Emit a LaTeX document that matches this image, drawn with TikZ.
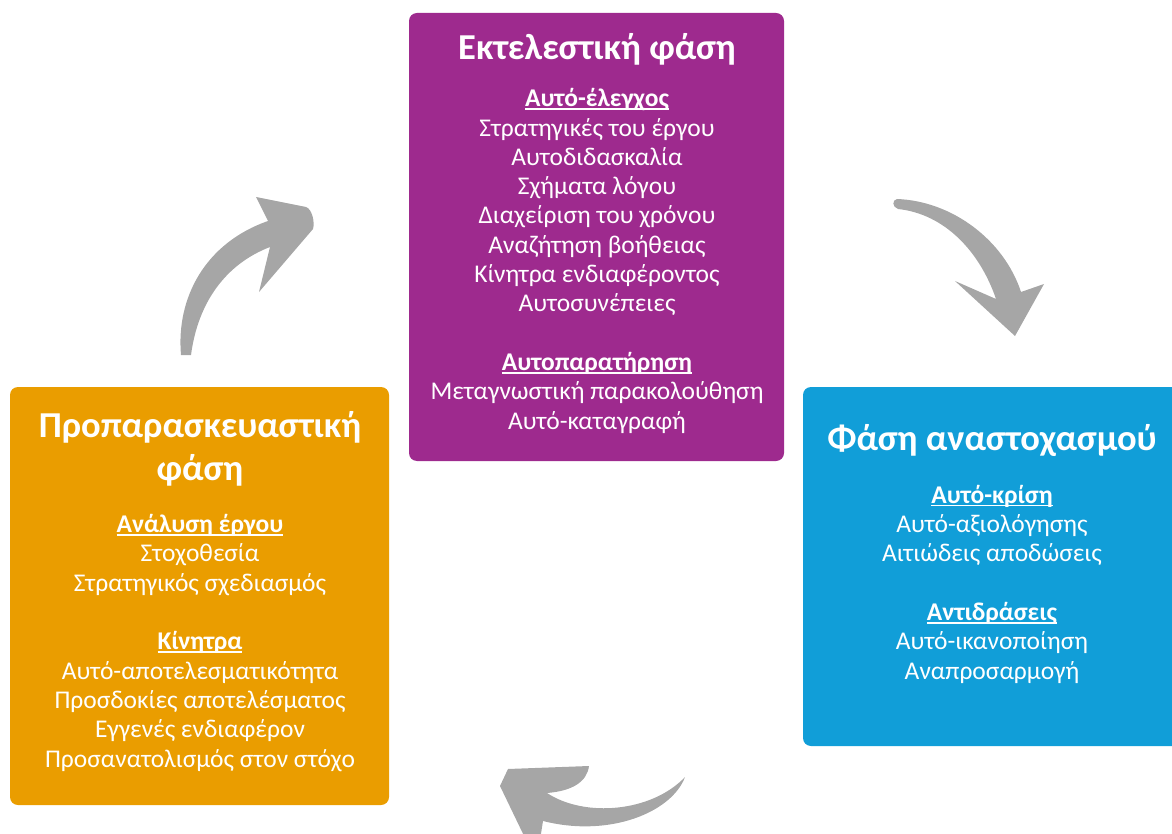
\documentclass[tikz,border=0pt]{standalone}
\usepackage{fontspec}
\setmainfont{Carlito}
\definecolor{phasepurple}{RGB}{158,42,142}
\definecolor{phaseorange}{RGB}{234,157,0}
\definecolor{phaseblue}{RGB}{17,158,216}
\definecolor{cyclegray}{RGB}{166,166,166}
% bold heading with an underline drawn just below the baseline
\newcommand\ulhead[1]{\setbox0=\hbox{\bfseries #1}\rlap{\rule[-3.2pt]{\wd0}{1.6pt}}\box0}
\tikzset{
  phasebox/.style={fill=#1, rounded corners=8pt, draw=none},
  phasetitle/.style={text=white, font=\fontsize{36.5}{43}\selectfont\bfseries, anchor=base, inner sep=0pt, align=center},
  phasebody/.style={text=white, font=\fontsize{25.5}{29.3}\selectfont, anchor=base, inner sep=0pt, align=center},
  cyclearrow/.style={fill=cyclegray, draw=none}
}
\begin{document}
\begin{tikzpicture}[x=1pt, y=-1pt]
\useasboundingbox (0,0) rectangle (1172,834);
\clip (0,0) rectangle (1172,834);

% phase boxes
\path[phasebox=phasepurple] (409,13) rectangle (784,461);
\path[phasebox=phaseorange] (10,387) rectangle (389,805);
\path[phasebox=phaseblue] (803,387) rectangle (1190,746);

% performance phase (nodes anchored at the baseline of their last line)
\node[phasetitle] (perfTitle) at (597,60) {Εκτελεστική φάση};
\node[phasebody] (perfBody) at (597,429) {\ulhead{Αυτό-έλεγχος}\\
Στρατηγικές του έργου\\ Αυτοδιδασκαλία\\ Σχήματα λόγου\\ Διαχείριση του χρόνου\\
Αναζήτηση βοήθειας\\ Κίνητρα ενδιαφέροντος\\ Αυτοσυνέπειες\\[29.3pt]
\ulhead{Αυτοπαρατήρηση}\\ Μεταγνωστική παρακολούθηση\\ Αυτό-καταγραφή};

% forethought phase
\node[phasetitle] (foreTitle) at (200,480) {Προπαρασκευαστική\\ φάση};
\node[phasebody] (foreBody) at (200,767) {\ulhead{Ανάλυση έργου}\\
Στοχοθεσία\\ Στρατηγικός σχεδιασμός\\[29.3pt]
\ulhead{Κίνητρα}\\ Αυτό-αποτελεσματικότητα\\ Προσδοκίες αποτελέσματος\\
Εγγενές ενδιαφέρον\\ Προσανατολισμός στον στόχο};

% self-reflection phase
\node[phasetitle] (reflTitle) at (992,450) {Φάση αναστοχασμού};
\node[phasebody] (reflBody) at (992,679) {\ulhead{Αυτό-κρίση}\\
Αυτό-αξιολόγησης\\ Αιτιώδεις αποδώσεις\\[29.3pt]
\ulhead{Αντιδράσεις}\\ Αυτό-ικανοποίηση\\ Αναπροσαρμογή};

% curved cycle arrows
\path[cyclearrow] (181,355) .. controls (176,298) and (205,243) .. (268,221)
  -- (256,197) -- (306,207) .. controls (312,209) and (315,222) .. (313,229)
  -- (259,292) -- (270,247) .. controls (226,264) and (198,302) .. (191,355) -- cycle;
\path[cyclearrow] (897,199) .. controls (952,201) and (1004,240) .. (1021,292)
  -- (1044,284) -- (1015,336) -- (955,281) -- (996,299)
  .. controls (980,252) and (945,214) .. (898,209) .. controls (892,207) and (892,200) .. (897,199) -- cycle;
\path[cyclearrow] (685,777) .. controls (672,812) and (610,838) .. (543,821)
  -- (540,840) -- (526,840) -- (500,786) -- (508,769) -- (589,766)
  .. controls (587,782) and (572,791) .. (547,793)
  .. controls (585,818) and (652,812) .. (685,777) -- cycle;
\end{tikzpicture}
\end{document}
